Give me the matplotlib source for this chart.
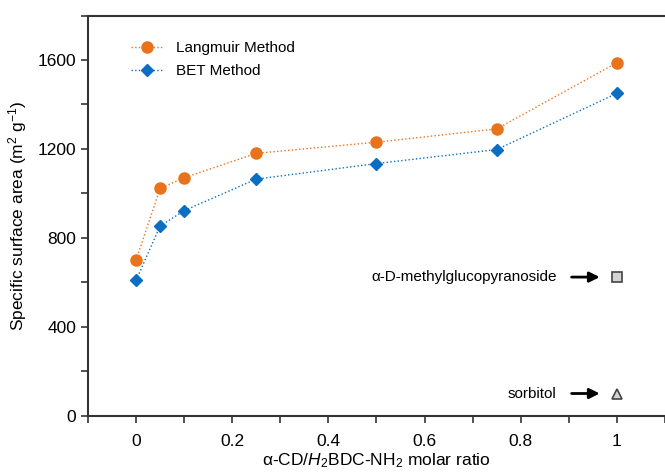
import matplotlib.pyplot as plt
from matplotlib.ticker import MultipleLocator

plt.rcParams['font.family'] = ['Liberation Sans', 'DejaVu Sans']
plt.rcParams['mathtext.fontset'] = 'custom'
plt.rcParams['mathtext.rm'] = 'Liberation Sans'
plt.rcParams['mathtext.it'] = 'Liberation Sans:italic'

# molar ratio alpha-CD / H2BDC-NH2
ratio = [0, 0.05, 0.1, 0.25, 0.5, 0.75, 1]
langmuir = [700, 1022, 1070, 1180, 1230, 1290, 1588]
bet = [608, 853, 922, 1064, 1134, 1197, 1450]

# control samples at ratio 1
control_names = ['\u03b1-D-methylglucopyranoside', 'sorbitol']
control_values = [623, 99]
control_markers = ['s', '^']


def make_plot():
    fig = plt.figure(figsize=(6.65, 4.72), dpi=100)
    ax = fig.add_axes([0.1323, 0.1197, 0.8677, 0.8473])

    ax.plot(ratio, langmuir, linestyle=':', linewidth=1.0, color='#E8731C',
            marker='o', markersize=8, label='Langmuir Method')
    ax.plot(ratio, bet, linestyle=':', linewidth=1.0, color='#0A6FC2',
            marker='D', markersize=6, label='BET Method')

    for name, val, m in zip(control_names, control_values, control_markers):
        ax.plot([1], [val], linestyle='none', marker=m, markersize=7,
                markerfacecolor='#d4d4d4', markeredgecolor='#444444',
                markeredgewidth=1.2)
        ax.annotate('', xy=(0.97, val), xytext=(0.9, val),
                    arrowprops=dict(arrowstyle='-|>', color='black', lw=2,
                                    mutation_scale=15))
        ax.text(0.875, val, name, ha='right', va='center', fontsize=11)

    ax.set_xlim(-0.1, 1.1)
    ax.set_ylim(0, 1800)
    ax.xaxis.set_major_locator(MultipleLocator(0.2))
    ax.xaxis.set_minor_locator(MultipleLocator(0.1))
    ax.yaxis.set_major_locator(MultipleLocator(400))
    ax.yaxis.set_minor_locator(MultipleLocator(200))
    ax.set_xticks([0, 0.2, 0.4, 0.6, 0.8, 1])
    ax.set_xticklabels(['0', '0.2', '0.4', '0.6', '0.8', '1'])
    ax.tick_params(which='both', direction='out', labelsize=12.5, width=1.2,
                   color='#333333')
    ax.tick_params(which='major', length=5)
    ax.tick_params(which='minor', length=5)
    ax.tick_params(axis='x', pad=8)

    for side in ['left', 'bottom', 'top']:
        ax.spines[side].set_linewidth(1.5)
        ax.spines[side].set_color('#333333')
    ax.spines['right'].set_visible(False)

    ax.set_ylabel('Specific surface area (m$^{2}$ g$^{-1}$)', fontsize=12.5,
                  labelpad=6)
    ax.set_xlabel('\u03b1-CD/$H_{2}$BDC-NH$_{2}$ molar ratio', fontsize=12.5,
                  labelpad=2)

    ax.legend(loc='upper left', bbox_to_anchor=(0.05, 0.97), frameon=False,
              fontsize=11, handlelength=2.2, labelspacing=0.6)

    fig.savefig('out.png', dpi=100)


if __name__ == '__main__':
    make_plot()
